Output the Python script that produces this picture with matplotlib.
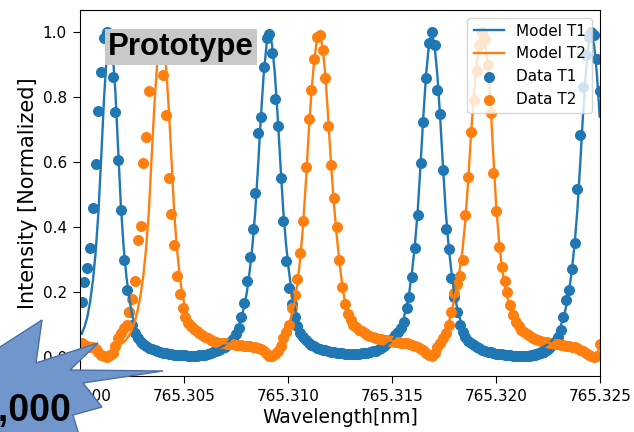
import numpy as np
import matplotlib
matplotlib.use("Agg")
import matplotlib.pyplot as plt
from matplotlib.patches import Polygon
from matplotlib.ticker import FixedLocator, FixedFormatter
from matplotlib import font_manager

# ---------------- data ----------------
WL_START = 765.3000817   # nm, first sample
WL_STEP = 0.00013462     # nm, sample spacing

data_t1 = [
    .170, .232, .273, .336, .458, .593, .758, .877, .982, 1.0,
    .96, .862, .755, .606, .452, .298, .206, .14, .098, .075,
    .058, .047, .04, .034, .029, .025, .022, .019, .016, .014,
    .012, .010, .009, .008, .007, .007, .006, .006, .005, .005,
    .005, .005, .006, .006, .008, .01, .012, .015, .018, .022,
    .027, .032, .038, .046, .057, .07, .09, .125, .166, .233,
    .308, .393, .505, .69, .738, .892, .982, .994, .935, .794,
    .71, .551, .419, .296, .212, .165, .125, .095, .075, .062,
    .052, .044, .038, .033, .029, .026, .023, .021, .019, .017,
    .015, .014, .013, .012, .011, .011, .01, .01, .01, .011,
    .012, .013, .014, .016, .018, .02, .024, .028, .034, .042,
    .05, .058, .068, .078, .09, .108, .151, .185, .248, .335,
    .437, .597, .724, .859, .965, 1.0, .96, .822, .748, .575,
    .393, .332, .243, .185, .139, .1, .078, .062, .051, .043,
    .037, .032, .027, .023, .02, .017, .015, .013, .011, .01,
    .009, .008, .007, .006, .005, .005, .005, .004, .004, .004,
    .005, .006, .008, .01, .013, .017, .022, .028, .036, .047,
    .062, .085, .124, .175, .208, .27, .352, .516, .683, .83,
    .93, .985, 1.0, .99, .917, .82,
]

data_t2 = [
    .042, .037, .034, .032, .03, .025, .015, .006, .002, .0,
    .006, .014, .035, .058, .075, .09, .1, .139, .178, .235,
    .36, .405, .597, .676, .82, .93, .99, .995, .95, .868,
    .744, .552, .44, .345, .25, .195, .15, .124, .105, .095,
    .088, .08, .073, .067, .062, .058, .054, .05, .047, .045,
    .043, .042, .041, .04, .039, .038, .037, .036, .035, .034,
    .033, .032, .03, .028, .024, .018, .01, .004, .003, .01,
    .02, .035, .06, .078, .1, .15, .19, .24, .32, .42,
    .586, .734, .822, .916, .986, .99, .945, .86, .71, .59,
    .49, .4, .3, .215, .165, .134, .115, .1, .093, .085,
    .079, .074, .069, .065, .062, .059, .057, .055, .053, .052,
    .051, .05, .048, .046, .045, .044, .042, .04, .038, .034,
    .03, .026, .021, .014, .008, .004, .012, .03, .045, .06,
    .074, .1, .139, .197, .225, .25, .3, .437, .555, .693,
    .79, .88, .96, 1.0, .98, .9, .75, .565, .45, .338,
    .278, .235, .2, .16, .129, .108, .095, .085, .077, .07,
    .064, .06, .056, .053, .05, .048, .046, .044, .042, .04,
    .039, .037, .036, .035, .034, .032, .03, .027, .023, .018,
    .012, .006, .002, .0, .004, .04,
]

model_t1 = [
    .072, .093, .123, .17, .235, .325, .45, .62, .8, .935,
    1.0, .945, .82, .645, .465, .335, .245, .18, .13, .097,
    .075, .06, .048, .04, .034, .029, .025, .022, .02, .018,
    .016, .015, .014, .013, .012, .011, .01, .01, .009, .009,
    .009, .01, .011, .012, .014, .016, .018, .021, .024, .028,
    .032, .037, .044, .052, .063, .077, .095, .12, .155, .2,
    .265, .345, .45, .59, .74, .87, .96, 1.0, .96, .87,
    .74, .59, .45, .345, .265, .2, .155, .12, .095, .077,
    .063, .052, .044, .037, .032, .028, .024, .021, .019, .017,
    .015, .013, .012, .011, .01, .01, .009, .01, .01, .011,
    .012, .013, .015, .017, .019, .021, .024, .028, .032, .037,
    .044, .052, .063, .077, .095, .12, .155, .2, .265, .345,
    .45, .59, .74, .87, .96, 1.0, .96, .87, .74, .59,
    .45, .345, .265, .2, .155, .12, .095, .077, .063, .052,
    .044, .037, .032, .028, .024, .021, .019, .017, .015, .013,
    .012, .011, .01, .009, .01, .01, .011, .012, .013, .015,
    .017, .019, .021, .024, .028, .032, .037, .044, .052, .063,
    .077, .095, .12, .155, .2, .265, .345, .45, .59, .74,
    .87, .96, 1.0, .96, .87, .74,
]

model_t2 = [
    .04, .038, .036, .033, .03, .026, .02, .012, .006, .004,
    .008, .016, .026, .034, .04, .046, .055, .068, .085, .11,
    .145, .19, .25, .335, .45, .62, .78, .91, .985, .985,
    .91, .78, .62, .45, .335, .25, .19, .15, .125, .107,
    .094, .084, .076, .07, .065, .06, .056, .052, .049, .047,
    .045, .043, .042, .041, .04, .039, .038, .037, .036, .035,
    .034, .032, .03, .027, .022, .016, .01, .006, .007, .013,
    .024, .038, .055, .075, .1, .13, .17, .225, .3, .4,
    .53, .68, .81, .91, .975, .995, .955, .87, .74, .6,
    .48, .38, .295, .225, .17, .135, .11, .095, .085, .078,
    .072, .068, .065, .062, .06, .058, .056, .054, .053, .052,
    .051, .05, .048, .047, .046, .044, .042, .04, .037, .034,
    .03, .025, .019, .013, .008, .006, .012, .025, .042, .06,
    .08, .105, .135, .175, .22, .27, .33, .42, .54, .68,
    .8, .9, .97, 1.0, .97, .9, .78, .62, .47, .36,
    .28, .225, .185, .152, .127, .108, .094, .083, .075, .068,
    .063, .059, .055, .052, .05, .048, .046, .044, .042, .041,
    .039, .038, .036, .035, .033, .031, .029, .026, .022, .017,
    .012, .007, .004, .004, .01, .03,
]

x_ticks = [765.300, 765.305, 765.310, 765.315, 765.320, 765.325]
x_tick_labels = ["765.300", "765.305", "765.310", "765.315", "765.320", "765.325"]
y_ticks = [0.0, 0.2, 0.4, 0.6, 0.8, 1.0]
y_tick_labels = ["0.0", "0.2", "0.4", "0.6", "0.8", "1.0"]

# ---------------- figure ----------------
W, H = 634, 432
fig = plt.figure(figsize=(W / 100, H / 100), dpi=100)
ax = fig.add_axes([80 / W, 56 / H, 520 / W, 366 / H])

wl = WL_START + WL_STEP * np.arange(len(data_t1))

blue = "#1f77b4"
orange = "#ff7f0e"

ax.plot(wl, model_t1, color=blue, lw=1.7, label="Model T1")
ax.plot(wl, model_t2, color=orange, lw=1.7, label="Model T2")
ax.scatter(wl, data_t1, s=48, color=blue, label="Data T1")
ax.scatter(wl, data_t2, s=48, color=orange, label="Data T2")

ax.set_xlim(765.300, 765.325)
ax.set_ylim(-0.058, 1.068)
ax.xaxis.set_major_locator(FixedLocator(x_ticks))
ax.xaxis.set_major_formatter(FixedFormatter(x_tick_labels))
ax.yaxis.set_major_locator(FixedLocator(y_ticks))
ax.yaxis.set_major_formatter(FixedFormatter(y_tick_labels))
ax.tick_params(labelsize=11, length=5, pad=4.5)
ax.set_xlabel("Wavelength[nm]", fontsize=13.5, labelpad=3)
ax.set_ylabel("Intensity [Normalized]", fontsize=15, labelpad=3)

ax.legend(loc="upper right", fontsize=11)

# "Prototype" tag
fig.text(108 / W, 1 - 47 / H, "Prototype", family="Liberation Sans",
         weight="bold", fontsize=22.5, color="black", ha="left", va="center",
         bbox=dict(boxstyle="square,pad=0.1", fc="#c8c8c8", ec="none"),
         zorder=10)

# starburst callout at lower left
star_px = [(-10, 352), (0, 347), (42, 320), (36, 363), (98, 343), (70, 370),
           (163, 371), (83, 383), (102, 407), (73, 415), (82, 445),
           (-10, 445)]
star = Polygon([(x / W, 1 - y / H) for x, y in star_px], closed=True,
               transform=fig.transFigure, fc="#7096cc", ec="#4a6fa8",
               lw=1.0, zorder=20)
fig.add_artist(star)

names = {f.name for f in font_manager.fontManager.ttflist}
if "Liberation Sans Narrow" in names:
    burst_family, burst_size = "Liberation Sans Narrow", 33
else:
    burst_family, burst_size = "Liberation Sans", 27
fig.text(72 / W, 1 - 421 / H, "1,000", family=burst_family,
         weight="bold", fontsize=burst_size, color="black", ha="right",
         va="baseline", zorder=21)

fig.savefig("out.png", dpi=100)
